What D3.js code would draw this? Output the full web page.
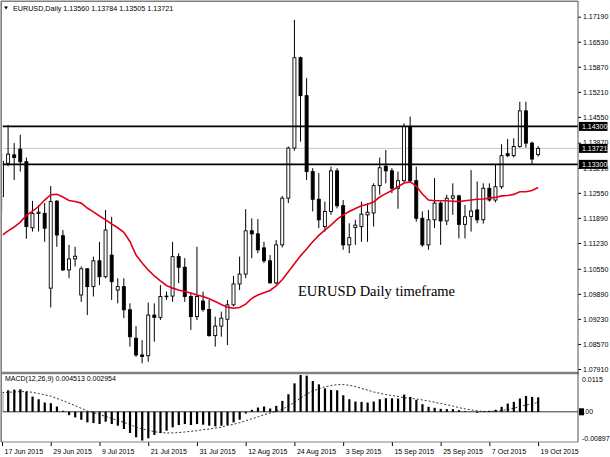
<!DOCTYPE html>
<html>
<head>
<meta charset="utf-8">
<script src="https://cdn.jsdelivr.net/npm/d3@7"></script>
<style>
  body { margin: 0; background: #fff; }
  svg { display: block; font-family: "Liberation Sans", Arial, sans-serif; }
</style>
</head>
<body>
<div id="chart"></div>
<script>
// daily bars, 17 Jun 2015 .. 19 Oct 2015
const open = [
  1.1245, 1.1333, 1.1355, 1.1370, 1.1337, 1.1163, 1.1201, 1.1201, 1.1004, 1.1233,
  1.1142, 1.1052, 1.1081, 1.0986, 1.1055, 1.1008, 1.1076, 1.1034, 1.1091, 1.0999,
  1.1008, 1.0947, 1.0872, 1.0828, 1.0826, 1.0933, 1.0927, 1.0982, 1.0983, 1.1087,
  1.1059, 1.0982, 1.0929, 1.0970, 1.0948, 1.0879, 1.0904, 1.0922, 1.0960, 1.1015,
  1.1041, 1.1155, 1.1147, 1.1110, 1.1076, 1.1018, 1.1118, 1.1241, 1.1373, 1.1611,
  1.1511, 1.1311, 1.1238, 1.1166, 1.1206, 1.1313, 1.1221, 1.1118, 1.1164, 1.1166,
  1.1197, 1.1202, 1.1274, 1.1325, 1.1313, 1.1267, 1.1287, 1.1430, 1.1287, 1.1188,
  1.1118, 1.1184, 1.1228, 1.1181, 1.1241, 1.1247, 1.1172, 1.1193, 1.1210, 1.1184,
  1.1267, 1.1236, 1.1271, 1.1358, 1.1353, 1.1377, 1.1471, 1.1386, 1.13560
]
const high = [
  1.1358, 1.1434, 1.1386, 1.1408, 1.1348, 1.1234, 1.1223, 1.1228, 1.1273, 1.1236,
  1.1157, 1.1118, 1.1113, 1.1061, 1.1056, 1.1087, 1.1126, 1.1210, 1.1192, 1.1030,
  1.1030, 1.0964, 1.0904, 1.0867, 1.0966, 1.0964, 1.1012, 1.0995, 1.1126, 1.1096,
  1.1083, 1.0991, 1.1113, 1.0995, 1.0973, 1.0929, 1.0942, 1.0973, 1.1036, 1.1087,
  1.1212, 1.1188, 1.1186, 1.1126, 1.1091, 1.1131, 1.1247, 1.1377, 1.1711, 1.1614,
  1.1557, 1.1320, 1.1307, 1.1232, 1.1324, 1.1320, 1.1236, 1.1175, 1.1184, 1.1232,
  1.1228, 1.1280, 1.1348, 1.1368, 1.1320, 1.1311, 1.1438, 1.1456, 1.1324, 1.1206,
  1.1210, 1.1294, 1.1232, 1.1250, 1.1280, 1.1250, 1.1223, 1.1315, 1.1285, 1.1280,
  1.1280, 1.1329, 1.1383, 1.1397, 1.1399, 1.1495, 1.1495, 1.1390, 1.13784
]
const low = [
  1.1205, 1.1325, 1.1289, 1.1311, 1.1134, 1.1153, 1.1153, 1.1126, 1.0953, 1.1113,
  1.1049, 1.1030, 1.1061, 1.0968, 1.0933, 1.0982, 1.1012, 1.1030, 1.0973, 1.0964,
  1.0925, 1.0850, 1.0823, 1.0806, 1.0810, 1.0863, 1.0920, 1.0973, 1.0968, 1.1017,
  1.0968, 1.0894, 1.0920, 1.0942, 1.0876, 1.0850, 1.0876, 1.0854, 1.0956, 1.0999,
  1.1030, 1.1083, 1.1096, 1.1070, 1.1016, 1.1014, 1.1111, 1.1228, 1.1366, 1.1390,
  1.1289, 1.1206, 1.1162, 1.1153, 1.1197, 1.1214, 1.1105, 1.1096, 1.1118, 1.1126,
  1.1126, 1.1166, 1.1250, 1.1280, 1.1254, 1.1213, 1.1283, 1.1282, 1.1179, 1.1113,
  1.1105, 1.1162, 1.1118, 1.1170, 1.1197, 1.1135, 1.1135, 1.1153, 1.1175, 1.1174,
  1.1232, 1.1230, 1.1265, 1.1349, 1.1348, 1.1374, 1.1374, 1.1329, 1.13505
]
const close = [
  1.1338, 1.1357, 1.1348, 1.1337, 1.1166, 1.1201, 1.1204, 1.1162, 1.1232, 1.1144,
  1.1052, 1.1081, 1.1088, 1.1055, 1.1008, 1.1076, 1.1034, 1.1157, 1.1021, 1.1008,
  1.0947, 1.0876, 1.0828, 1.0824, 1.0933, 1.0927, 1.0982, 1.0983, 1.1087, 1.1059,
  1.0982, 1.0929, 1.0982, 1.0948, 1.0879, 1.0904, 1.0925, 1.0960, 1.1015, 1.1041,
  1.1155, 1.1147, 1.1105, 1.1076, 1.1018, 1.1118, 1.1241, 1.1373, 1.1611, 1.1511,
  1.1311, 1.1238, 1.1184, 1.1206, 1.1313, 1.1221, 1.1118, 1.1137, 1.1170, 1.1199,
  1.1204, 1.1274, 1.1321, 1.1313, 1.1267, 1.1287, 1.1430, 1.1287, 1.1188, 1.1118,
  1.1184, 1.1228, 1.1181, 1.1241, 1.1247, 1.1172, 1.1192, 1.1207, 1.1184, 1.1267,
  1.1236, 1.1271, 1.1353, 1.1353, 1.1377, 1.1471, 1.1386, 1.1344, 1.13721
]

// red moving average
const maLine = [
  1.1143, 1.1155, 1.1165, 1.1178, 1.1196, 1.1207, 1.1219, 1.1236, 1.1250, 1.1251,
  1.1244, 1.1235, 1.1232, 1.1228, 1.1215, 1.1205, 1.1194, 1.1184, 1.1173, 1.1163,
  1.1151, 1.1127, 1.1091, 1.1070, 1.1052, 1.1036, 1.1023, 1.1011, 1.1004, 1.0999,
  1.0995, 1.0991, 1.0986, 1.0982, 1.0976, 1.0969, 1.0961, 1.0954, 1.0951, 1.0953,
  1.0962, 1.0977, 1.0986, 1.0992, 1.0998, 1.1010, 1.1026, 1.1047, 1.1068, 1.1089,
  1.1107, 1.1126, 1.1143, 1.1157, 1.1170, 1.1185, 1.1197, 1.1206, 1.1214, 1.1221,
  1.1225, 1.1231, 1.1244, 1.1253, 1.1261, 1.1271, 1.1281, 1.1284, 1.1273, 1.1252,
  1.1236, 1.1234, 1.1234, 1.1234, 1.1233, 1.1232, 1.1234, 1.1236, 1.1238, 1.1239,
  1.1241, 1.1243, 1.1247, 1.1248, 1.1251, 1.1258, 1.1258, 1.1261, 1.1269
]

// MACD(12,26,9) histogram and signal
const macdHist = [
  0.00631, 0.00672, 0.00693, 0.00703, 0.00631, 0.00476, 0.00393, 0.00290, 0.00269, 0.00165,
  0.00031, -0.00103, -0.00176, -0.00248, -0.00331, -0.00352, -0.00383, -0.00310, -0.00383, -0.00434,
  -0.00538, -0.00662, -0.00796, -0.00897, -0.00827, -0.00724, -0.00662, -0.00589, -0.00486, -0.00414,
  -0.00383, -0.00414, -0.00383, -0.00403, -0.00434, -0.00455, -0.00434, -0.00414, -0.00331, -0.00248,
  -0.00052, 0.00062, 0.00134, 0.00165, 0.00103, 0.00186, 0.00341, 0.00548, 0.00889, 0.01150,
  0.01130, 0.00962, 0.00858, 0.00734, 0.00682, 0.00672, 0.00517, 0.00393, 0.00320, 0.00310,
  0.00290, 0.00320, 0.00393, 0.00424, 0.00424, 0.00414, 0.00538, 0.00465, 0.00372, 0.00238,
  0.00155, 0.00124, 0.00093, 0.00083, 0.00083, 0.00052, 0.00021, -0.00005, -0.00031, 0.00010,
  0.00031, 0.00062, 0.00155, 0.00258, 0.00310, 0.00414, 0.00496, 0.00465, 0.004513
]
const macdSignal = [
  0.0060, 0.0061, 0.0062, 0.0063, 0.0063, 0.0061, 0.0057, 0.0053, 0.0049, 0.0042,
  0.0035, 0.0027, 0.0019, 0.0011, 0.0003, -0.0002, -0.0009, -0.0014, -0.0021, -0.0027,
  -0.0033, -0.0040, -0.0048, -0.0053, -0.0058, -0.0062, -0.0065, -0.0066, -0.0066, -0.0065,
  -0.0063, -0.0061, -0.0059, -0.0056, -0.0054, -0.0051, -0.0048, -0.0043, -0.0039, -0.0034,
  -0.0028, -0.0022, -0.0016, -0.0009, -0.0004, 0.0002, 0.0008, 0.0018, 0.0030, 0.0043,
  0.0055, 0.0065, 0.0072, 0.0078, 0.0082, 0.0085, 0.0085, 0.0083, 0.0079, 0.0073,
  0.0068, 0.0062, 0.0058, 0.0054, 0.0051, 0.0048, 0.0044, 0.0042, 0.0040, 0.0037,
  0.0034, 0.0030, 0.0026, 0.0022, 0.0018, 0.0013, 0.0009, 0.0006, 0.0003, 0.0001,
  0.0001, 0.0002, 0.0004, 0.0007, 0.0011, 0.0016, 0.0021, 0.0025, 0.002954
]

const dateLabels = ['17 Jun 2015', '29 Jun 2015', '9 Jul 2015', '21 Jul 2015', '31 Jul 2015',
  '12 Aug 2015', '24 Aug 2015', '3 Sep 2015', '15 Sep 2015', '25 Sep 2015', '7 Oct 2015', '19 Oct 2015']
const dateBars = [0, 8, 16, 24, 32, 40, 48, 56, 64, 72, 80, 88]

const priceTicks = [1.07910, 1.08570, 1.09230, 1.09890, 1.10550, 1.11230, 1.11890, 1.12550,
  1.13210, 1.13870, 1.14550, 1.15210, 1.15870, 1.16530, 1.17190]
const levels = [1.14300, 1.13300]
const lastPrice = 1.13721
const macdTicks = [0.0115, 0, -0.00897]
const macdTickLabels = ['0.0115', '0.00', '-0.00897']

// layout
const width = 610
const height = 457
const plot = { left: 2, right: 578, top: 2, bottom: 372 }
const sub = { top: 374, bottom: 442 }

const svg = d3.select('#chart').append('svg')
  .attr('width', width)
  .attr('height', height)

svg.append('rect').attr('width', width).attr('height', height).attr('fill', '#fff')

const x = d3.scaleLinear().domain([0, 88]).range([2, 538.1])
const y = d3.scaleLinear().domain([1.0791, 1.1719]).range([369, 16.7])
const yMacd = d3.scaleLinear().domain([-0.00897, 0.0115]).range([440.5, 375])

const defs = svg.append('defs')
defs.append('clipPath').attr('id', 'clip-main')
  .append('rect')
  .attr('x', plot.left + 0.8).attr('y', plot.top)
  .attr('width', plot.right - plot.left - 0.8).attr('height', plot.bottom - plot.top)
defs.append('clipPath').attr('id', 'clip-sub')
  .append('rect')
  .attr('x', plot.left + 0.8).attr('y', sub.top)
  .attr('width', plot.right - plot.left - 0.8).attr('height', sub.bottom - sub.top)

const bars = close.map((c, i) => ({ i: i, o: open[i], h: high[i], l: low[i], c: c }))

// ---- main panel
const main = svg.append('g').attr('clip-path', 'url(#clip-main)')

// bid line
main.append('line')
  .attr('x1', plot.left).attr('x2', plot.right)
  .attr('y1', y(lastPrice)).attr('y2', y(lastPrice))
  .attr('stroke', '#c8c8c8').attr('stroke-width', 1)

main.selectAll('.wick')
  .data(bars)
  .join('line')
  .attr('class', 'wick')
  .attr('x1', d => x(d.i)).attr('x2', d => x(d.i))
  .attr('y1', d => y(d.h)).attr('y2', d => y(d.l))
  .attr('stroke', '#000').attr('stroke-width', 1)

main.selectAll('.body')
  .data(bars)
  .join('rect')
  .attr('class', 'body')
  .attr('x', d => x(d.i) - 1.5)
  .attr('width', 3)
  .attr('y', d => y(Math.max(d.o, d.c)))
  .attr('height', d => Math.max(0.6, Math.abs(y(d.o) - y(d.c))))
  .attr('fill', d => d.c >= d.o ? '#fff' : '#000')
  .attr('stroke', '#000')
  .attr('stroke-width', 0.9)

main.append('path')
  .datum(maLine)
  .attr('d', d3.line().x((d, i) => x(i)).y(d => y(d)))
  .attr('fill', 'none')
  .attr('stroke', '#e3001b')
  .attr('stroke-width', 1.6)

main.selectAll('.level')
  .data(levels)
  .join('line')
  .attr('class', 'level')
  .attr('x1', plot.left).attr('x2', plot.right)
  .attr('y1', d => y(d)).attr('y2', d => y(d))
  .attr('stroke', '#000').attr('stroke-width', 1.6)

svg.append('text')
  .attr('x', 298).attr('y', 296)
  .attr('font-family', '"Liberation Serif", "Times New Roman", serif')
  .attr('font-size', 14.5)
  .text('EURUSD Daily timeframe')

// header
svg.append('path')
  .attr('d', 'M4,6.5 L8,6.5 L6,9.5 Z')
  .attr('fill', '#000')
svg.append('text')
  .attr('x', 13).attr('y', 10.5)
  .attr('font-size', 7.2)
  .text('EURUSD,Daily  1.13560 1.13784 1.13505 1.13721')

// price axis
const yAxis = d3.axisRight(y)
  .tickValues(priceTicks)
  .tickFormat(d => d.toFixed(5))
  .tickSize(3)
  .tickPadding(2)

const yAxisG = svg.append('g')
  .attr('transform', 'translate(' + plot.right + ',0)')
  .call(yAxis)
yAxisG.select('.domain').remove()
yAxisG.selectAll('text').attr('font-size', 7).attr('fill', '#000').attr('font-family', '"Liberation Sans", Arial, sans-serif')
yAxisG.selectAll('line').attr('stroke', '#000')

// black price tags
const tags = svg.selectAll('.tag')
  .data(levels.concat([lastPrice]))
  .join('g')
  .attr('class', 'tag')
  .attr('transform', d => 'translate(' + (plot.right + 1) + ',' + y(d) + ')')
tags.append('rect')
  .attr('x', 0).attr('y', -4.5)
  .attr('width', 28.5).attr('height', 9)
  .attr('fill', '#000')
tags.append('text')
  .attr('x', 3).attr('y', 0)
  .attr('dy', '0.34em')
  .attr('font-size', 7)
  .attr('fill', '#fff')
  .text(d => d.toFixed(5))

// ---- MACD panel
const macdG = svg.append('g').attr('clip-path', 'url(#clip-sub)')

macdG.append('line')
  .attr('x1', plot.left).attr('x2', plot.right)
  .attr('y1', yMacd(0)).attr('y2', yMacd(0))
  .attr('stroke', '#000').attr('stroke-width', 0.8)

macdG.selectAll('.hist')
  .data(macdHist)
  .join('rect')
  .attr('class', 'hist')
  .attr('x', (d, i) => x(i) - 1)
  .attr('width', 2.2)
  .attr('y', d => Math.min(yMacd(d), yMacd(0)))
  .attr('height', d => Math.abs(yMacd(d) - yMacd(0)))
  .attr('fill', '#000')

macdG.append('path')
  .datum(macdSignal)
  .attr('d', d3.line().x((d, i) => x(i)).y(d => yMacd(d)))
  .attr('fill', 'none')
  .attr('stroke', '#000')
  .attr('stroke-width', 0.8)
  .attr('stroke-dasharray', '2,2')

svg.append('text')
  .attr('x', 5).attr('y', 379)
  .attr('dy', '0.34em')
  .attr('font-size', 7)
  .text('MACD(12,26,9) 0.004513 0.002954')

const macdLabelY = [379.5, yMacd(0), 439]
svg.append('rect')
  .attr('x', plot.right + 1).attr('y', yMacd(0) - 3.5)
  .attr('width', 5).attr('height', 7)
  .attr('fill', '#000')
svg.selectAll('.macd-label')
  .data(macdTicks)
  .join('text')
  .attr('class', 'macd-label')
  .attr('x', (d, i) => i === 1 ? plot.right + 1.5 : plot.right + 4)
  .attr('y', (d, i) => macdLabelY[i])
  .attr('dy', '0.34em')
  .attr('font-size', 7)
  .attr('fill', '#000')
  .text((d, i) => macdTickLabels[i])

// date axis
const xAxis = d3.axisBottom(x)
  .tickValues(dateBars)
  .tickFormat((d, i) => dateLabels[i])
  .tickSize(4)
  .tickPadding(3)
const xAxisG = svg.append('g')
  .attr('transform', 'translate(0,' + sub.bottom + ')')
  .call(xAxis)
xAxisG.select('.domain').remove()
xAxisG.selectAll('line').attr('stroke', '#000')
xAxisG.selectAll('text')
  .attr('text-anchor', 'start')
  .attr('x', 2)
  .attr('font-size', 7)
  .attr('fill', '#000')
  .attr('font-family', '"Liberation Sans", Arial, sans-serif')

// frames
svg.append('line')
  .attr('x1', 1).attr('x2', plot.right).attr('y1', 1.2).attr('y2', 1.2)
  .attr('stroke', '#808080').attr('stroke-width', 1.6)
svg.append('line')
  .attr('x1', 1.2).attr('x2', 1.2).attr('y1', 1).attr('y2', sub.bottom)
  .attr('stroke', '#808080').attr('stroke-width', 1.6)
svg.append('line')
  .attr('x1', 1).attr('x2', plot.right + 1).attr('y1', 373).attr('y2', 373)
  .attr('stroke', '#808080').attr('stroke-width', 2.4)
svg.append('line')
  .attr('x1', 1).attr('x2', plot.right).attr('y1', sub.bottom).attr('y2', sub.bottom)
  .attr('stroke', '#808080').attr('stroke-width', 1.2)
svg.append('line')
  .attr('x1', plot.right).attr('x2', plot.right).attr('y1', 1).attr('y2', sub.bottom)
  .attr('stroke', '#555').attr('stroke-width', 1)
</script>
</body>
</html>
